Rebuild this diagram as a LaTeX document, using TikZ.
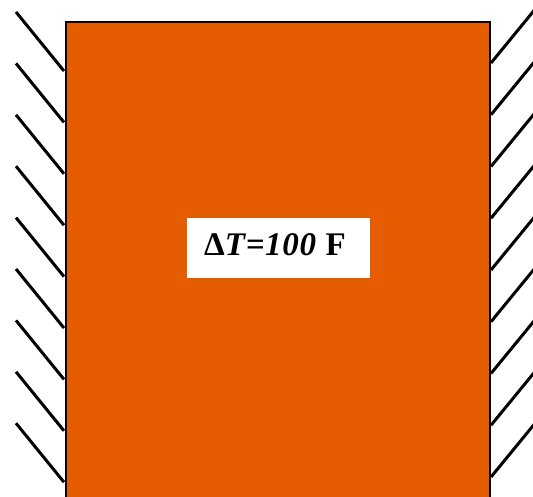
\documentclass[tikz,border=0pt]{standalone}
\usepackage{fontspec}
\setmainfont{Liberation Serif}
\definecolor{barorange}{RGB}{230,92,0}
\begin{document}
\begin{tikzpicture}[x=1pt,y=-1pt,
  hatch/.style={line width=3pt},
  wall/.style={line width=2pt},
  labelbox/.style={fill=white, minimum width=183pt, minimum height=60pt, inner sep=0pt},
  labeltext/.style={inner sep=0pt, anchor=base, font=\fontsize{33}{33}\selectfont\bfseries\addfontfeatures{LetterSpace=2}}]
\useasboundingbox (0,0) rectangle (533,497);
\begin{scope}
\clip (0,0) rectangle (533,497);
\fill[barorange] (66,22) rectangle (490,505);
\draw[wall] (66,505) -- (66,22) -- (490,22) -- (490,505);
\foreach \i in {0,...,8} {
  \draw[hatch] (16,{12+51.4*\i}) -- (64,{71+51.4*\i});
  \draw[hatch] (491,{63+51.75*\i}) -- (541,{2+51.75*\i});
}
\end{scope}
\node[labelbox] (box) at (278.5,248) {};
\node[labeltext] (lbl) at (275,255) {Δ\textit{T=100} F};
\end{tikzpicture}
\end{document}
